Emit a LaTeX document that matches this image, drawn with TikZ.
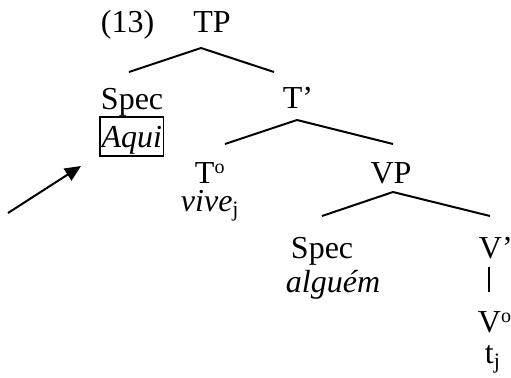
\documentclass[tikz,border=0pt]{standalone}
\usepackage{fontspec}
\setmainfont{Liberation Serif}
\usetikzlibrary{arrows.meta}
\newcommand{\degsup}{\raisebox{5pt}{\fontsize{10}{10}\selectfont o}}
\newcommand{\idxsub}[1]{\raisebox{-2.5pt}{\fontsize{11}{11}\selectfont #1}}

\begin{document}
\begin{tikzpicture}[x=0.5pt,y=-0.5pt,font=\fontsize{16}{19}\selectfont, line width=1pt,
  lbl/.style={inner sep=0pt,anchor=base west},
  cat/.style={inner sep=0pt,anchor=base},
  boxed/.style={draw,line width=0.8pt,inner xsep=0.75pt,inner ysep=1pt,text height=14pt,text depth=3.5pt,anchor=base west}]
\useasboundingbox (0,0) rectangle (511,377);

% upper part
\node[lbl] (ex) at (100,32) {(13)};
\node[cat] (tp) at (212,32) {TP};
\node[lbl] (spec1) at (100,109) {Spec};
\node[boxed] (aqui) at (99.25,147) {\itshape Aqui};
\node[cat] (tbar) at (298,108) {T'};

\coordinate (tp-l) at (129,72);
\coordinate (tp-top) at (201,48);
\coordinate (tp-r) at (274,72);
\draw (tp-l) -- (tp-top) -- (tp-r);

\coordinate (tbar-l) at (225,144);
\coordinate (tbar-top) at (297,120);
\coordinate (tbar-r) at (393,144);
\draw (tbar-l) -- (tbar-top) -- (tbar-r);

% middle part
\node[lbl] (t0) at (194,183) {T\degsup};
\node[lbl] (vive) at (180,211) {\textit{vive}\idxsub{j}};
\node[cat] (vp) at (391,183) {VP};

\coordinate (vp-l) at (322,216);
\coordinate (vp-top) at (393,192);
\coordinate (vp-r) at (490,216);
\draw (vp-l) -- (vp-top) -- (vp-r);

% lower part
\node[lbl] (spec2) at (290,258) {Spec};
\node[lbl] (alguem) at (285,292) {\itshape alguém};
\node[lbl] (vbar) at (478,258) {V'};
\node[lbl] (v0) at (477,332) {V\degsup};
\node[lbl] (trace) at (484,363) {t\idxsub{j}};

\coordinate (vbar-top) at (489,267);
\coordinate (vbar-bot) at (489,292);
\draw (vbar-top) -- (vbar-bot);

% arrow
\coordinate (arr-tail) at (8,213);
\coordinate (arr-tip) at (81,166);
\draw[-{Triangle[length=8pt,width=7pt]}] (arr-tail) -- (arr-tip);

\end{tikzpicture}
\end{document}
